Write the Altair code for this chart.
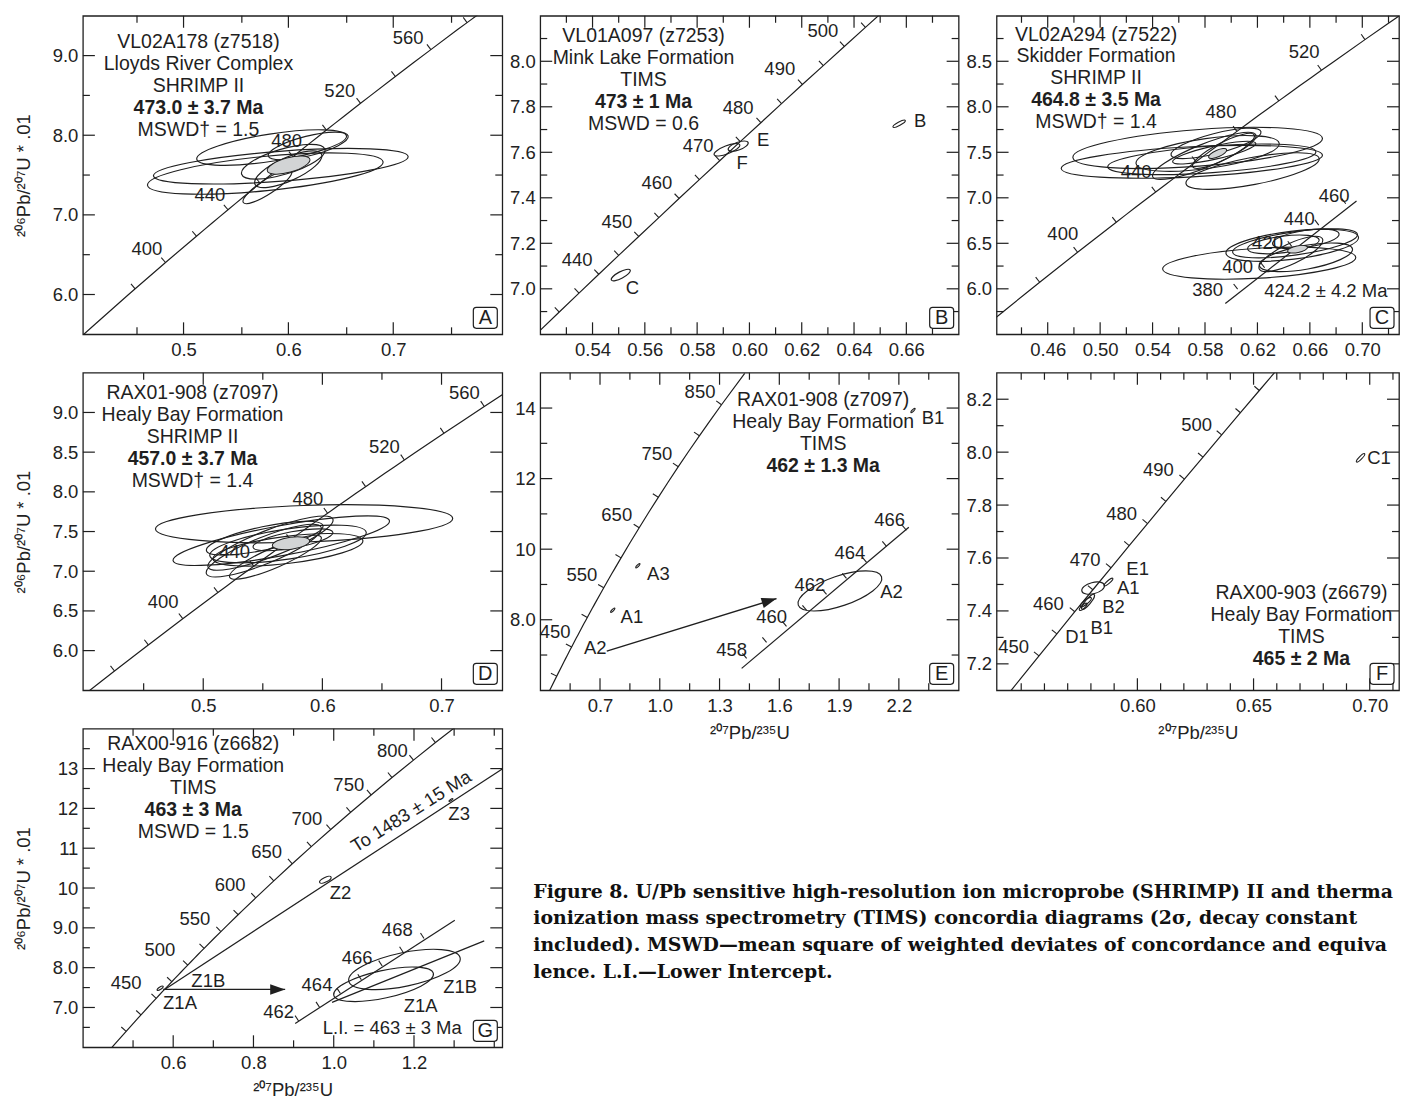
import math
import pandas as pd
import altair as alt

FONT = "Liberation Sans"
INK = "#1f1f1f"
GRAY = "#d2d4d5"
LABEL_SIZE = 18.5
HEADER_SIZE = 19.5
LINE_H = 22
TICK_LEN = 6.5
TICK_PATH = "M0,0L0,-1"
HEAD_PATH = "M0,0L-2,-0.7L-2,0.7Z"

Y_TITLE = "²⁰⁶Pb/²⁰⁷U * .01"
X_TITLE = "²⁰⁷Pb/²³⁵U"

# ---------------- concordia table (age in Ma, 207Pb/235U, 206Pb/238U x 100) ----------------
CONC_AGE = [340, 350, 360, 375, 380, 400, 420, 425, 430, 435, 440, 445, 450, 455, 460, 465, 470,
            475, 480, 485, 490, 495, 500, 505, 510, 515, 520, 525, 540, 550, 560, 575, 580, 600,
            625, 650, 675, 700, 725, 750, 775, 800, 825, 850, 900]
CONC_X = [0.39773, 0.41156, 0.42553, 0.44675, 0.45389, 0.48281, 0.51231, 0.51977, 0.52728,
          0.53482, 0.54239, 0.55000, 0.55766, 0.56535, 0.57307, 0.58084, 0.58864, 0.59648,
          0.60437, 0.61228, 0.62024, 0.62824, 0.63628, 0.64436, 0.65247, 0.66063, 0.66883,
          0.67707, 0.70202, 0.71887, 0.73588, 0.76172, 0.77041, 0.80563, 0.85064, 0.89677,
          0.94405, 0.99251, 1.04218, 1.09308, 1.14526, 1.19873, 1.25354, 1.30971, 1.42629]
CONC_Y = [5.416, 5.580, 5.743, 5.990, 6.072, 6.402, 6.732, 6.815, 6.898, 6.981, 7.064, 7.147,
          7.230, 7.313, 7.397, 7.480, 7.563, 7.647, 7.730, 7.814, 7.898, 7.981, 8.065, 8.149,
          8.233, 8.317, 8.401, 8.485, 8.738, 8.906, 9.075, 9.330, 9.414, 9.754, 10.181, 10.609,
          11.039, 11.470, 11.903, 12.338, 12.775, 13.213, 13.653, 14.094, 14.983]

# ---------------- Panel A ----------------
A_XDOM = [0.404, 0.804]
A_YDOM = [5.5, 9.5]
A_XMAJ = [0.5, 0.6, 0.7]
A_XMIN = [0.4556, 0.5556, 0.6556, 0.7556]
A_YMAJ = [6.0, 7.0, 8.0, 9.0]
A_YMIN = [6.5, 7.5, 8.5]
A_SPAN = [340, 600]
A_TICKS = [380, 400, 420, 440, 460, 480, 500, 520, 540, 560, 580]
A_AGE_LABELS = [("400", 0.465, 6.57), ("440", 0.5252, 7.247), ("480", 0.5983, 7.929),
                ("520", 0.649, 8.556), ("560", 0.7142, 9.224)]
A_HEADER = ["VL02A178 (z7518)", "Lloyds River Complex", "SHRIMP II", "473.0 ± 3.7 Ma", "MSWD† = 1.5"]
A_HEADER_POS = [0.5142, 9.170]
A_ELLIPSES = [[0.4656, 7.3725, 0.6903, 7.665, 0.145],
              [0.4713, 7.4896, 0.7142, 7.732, 0.117],
              [0.5126, 7.699, 0.6554, 7.991, 0.18],
              [0.5554, 7.5105, 0.6348, 7.824, 0.29],
              [0.5808, 7.740, 0.6570, 7.991, 0.24],
              [0.5570, 7.155, 0.6030, 7.552, 0.25],
              [0.5681, 7.385, 0.6316, 7.761, 0.32]]
A_MEAN = [[0.5799, 7.552, 0.6205, 7.699, 0.33]]

# ---------------- Panel B ----------------
B_XDOM = [0.52, 0.68]
B_YDOM = [6.8, 8.2]
B_XMAJ = [0.54, 0.56, 0.58, 0.60, 0.62, 0.64, 0.66]
B_XMIN = [0.53, 0.55, 0.57, 0.59, 0.61, 0.63, 0.65, 0.67]
B_YMAJ = [7.0, 7.2, 7.4, 7.6, 7.8, 8.0]
B_YMIN = [6.9, 7.1, 7.3, 7.5, 7.7, 7.9, 8.1]
B_SPAN = [420, 515]
B_TICKS = [430, 435, 440, 445, 450, 455, 460, 465, 470, 475, 480, 485, 490, 495, 500, 505]
B_AGE_LABELS = [("440", 0.5341, 7.127), ("450", 0.5493, 7.295), ("460", 0.5646, 7.464),
                ("470", 0.5804, 7.629), ("480", 0.5957, 7.795), ("490", 0.6116, 7.964),
                ("500", 0.6281, 8.132)]
B_HEADER = ["VL01A097 (z7253)", "Mink Lake Formation", "TIMS", "473 ± 1 Ma", "MSWD = 0.6"]
B_HEADER_POS = [0.5595, 8.111]
B_ELLIPSES = [[0.5919, 7.611, 0.5995, 7.643, 0.37],
              [0.5865, 7.589, 0.5963, 7.633, 0.29],
              [0.6549, 7.711, 0.6596, 7.740, 0.24],
              [0.5472, 7.0385, 0.5544, 7.0825, 0.31]]
B_LABELS = [("E", 0.6052, 7.655), ("F", 0.5972, 7.552), ("B", 0.6653, 7.736), ("C", 0.5553, 7.002)]

# ---------------- Panel C ----------------
C_XDOM = [0.421, 0.7280]
C_YDOM = [5.5, 9.0]
C_XMAJ = [0.46, 0.50, 0.54, 0.58, 0.62, 0.66, 0.70]
C_XMIN = [0.44, 0.48, 0.52, 0.56, 0.60, 0.64, 0.68, 0.72]
C_YMAJ = [6.0, 6.5, 7.0, 7.5, 8.0, 8.5]
C_YMIN = [5.75, 6.25, 6.75, 7.25, 7.75, 8.25, 8.75]
C_SPAN = [340, 580]
C_TICKS = [380, 400, 420, 440, 460, 480, 500, 520, 540]
C_AGE_LABELS = [("400", 0.4715, 6.604), ("440", 0.5274, 7.285), ("480", 0.5922, 7.947),
                ("520", 0.6557, 8.599)]
C_HEADER = ["VL02A294 (z7522)", "Skidder Formation", "SHRIMP II", "464.8 ± 3.5 Ma", "MSWD† = 1.4"]
C_HEADER_POS = [0.4969, 8.794]
C_SEC_LINE = [(0.5955, 5.839), (0.6956, 6.965)]
C_SEC_TICKS = [(0.6049, 5.997), (0.6255, 6.2315), (0.6462, 6.466), (0.6668, 6.7005), (0.6874, 6.935)]
C_LABELS = [("380", 0.582, 5.986), ("400", 0.6049, 6.236), ("420", 0.6277, 6.501),
            ("440", 0.6519, 6.770), ("460", 0.6785, 7.016), ("424.2 ± 4.2 Ma", 0.6722, 5.971)]
C_ELLIPSES = [[0.4792, 7.443, 0.6696, 7.653, 0.146],
              [0.4703, 7.322, 0.6696, 7.469, 0.115],
              [0.5058, 7.340, 0.6646, 7.506, 0.128],
              [0.5655, 7.156, 0.6671, 7.432, 0.20],
              [0.5541, 7.469, 0.6227, 7.727, 0.215],
              [0.5401, 7.230, 0.6188, 7.690, 0.21],
              [0.5706, 7.340, 0.6176, 7.690, 0.24],
              [0.5274, 7.377, 0.6366, 7.598, 0.207],
              [0.5553, 7.395, 0.6188, 7.598, 0.157],
              [0.5477, 6.2175, 0.6950, 6.346, 0.155],
              [0.5960, 6.390, 0.6971, 6.567, 0.21],
              [0.6011, 6.402, 0.6963, 6.597, 0.185],
              [0.6125, 6.438, 0.6671, 6.538, 0.23],
              [0.6214, 6.2175, 0.6696, 6.549, 0.29],
              [0.6315, 6.4936, 0.6823, 6.604, 0.25],
              [0.6214, 6.254, 0.6925, 6.438, 0.25]]
C_MEAN = [[0.5828, 7.443, 0.5965, 7.531, 0.34],
          [0.6430, 6.4126, 0.6582, 6.457, 0.33]]

# ---------------- Panel D ----------------
D_XDOM = [0.399, 0.751]
D_YDOM = [5.5, 9.5]
D_XMAJ = [0.5, 0.6, 0.7]
D_XMIN = [0.45, 0.55, 0.65]
D_YMAJ = [6.0, 6.5, 7.0, 7.5, 8.0, 8.5, 9.0]
D_YMIN = []
D_SPAN = [340, 600]
D_TICKS = [360, 380, 400, 420, 440, 460, 480, 500, 520, 540, 560]
D_AGE_LABELS = [("400", 0.4663, 6.612), ("440", 0.5264, 7.247), ("480", 0.5879, 7.916),
                ("520", 0.6521, 8.568), ("560", 0.7192, 9.245)]
D_HEADER = ["RAX01-908 (z7097)", "Healy Bay Formation", "SHRIMP II", "457.0 ± 3.7 Ma", "MSWD†  = 1.4"]
D_HEADER_POS = [0.491, 9.245]
D_ELLIPSES = [[0.4599, 7.531, 0.7094, 7.665, 0.123],
              [0.4747, 7.134, 0.6563, 7.636, 0.136],
              [0.5041, 7.051, 0.6088, 7.657, 0.20],
              [0.5027, 6.967, 0.5990, 7.552, 0.215],
              [0.5055, 7.197, 0.6368, 7.490, 0.19],
              [0.5222, 6.925, 0.5990, 7.427, 0.20],
              [0.5418, 7.302, 0.6088, 7.490, 0.20],
              [0.5082, 7.155, 0.6340, 7.385, 0.18],
              [0.5027, 7.260, 0.6005, 7.573, 0.196]]
D_MEAN = [[0.5580, 7.322, 0.5893, 7.385, 0.32]]

# ---------------- Panel E ----------------
E_XDOM = [0.4, 2.5]
E_YDOM = [6.0, 15.0]
E_XMAJ = [0.7, 1.0, 1.3, 1.6, 1.9, 2.2]
E_XMIN = [0.55, 0.85, 1.15, 1.45, 1.75, 2.05, 2.35]
E_YMAJ = [8, 10, 12, 14]
E_YMIN = [7, 9, 11, 13]
E_SPAN = [350, 900]
E_TICKS = [400, 450, 500, 550, 600, 650, 700, 750, 800, 850]
E_AGE_LABELS = [("450", 0.475, 7.66), ("550", 0.609, 9.26), ("650", 0.784, 10.96),
                ("750", 0.985, 12.71), ("850", 1.202, 14.45)]
E_HEADER = ["RAX01-908 (z7097)", "Healy Bay Formation", "TIMS", "462 ± 1.3 Ma"]
E_HEADER_POS = [1.82, 14.216]
E_SEC_LINE = [(1.411, 6.622), (2.25, 10.62)]
E_SEC_TICKS = [(1.436, 6.905), (1.536, 7.359), (1.636, 7.813), (1.737, 8.267), (1.837, 8.721),
               (1.937, 9.174), (2.038, 9.628), (2.138, 10.082), (2.238, 10.536)]
E_LABELS = [("458", 1.361, 7.14), ("460", 1.561, 8.085), ("462", 1.753, 8.98),
            ("464", 1.954, 9.905), ("466", 2.154, 10.82), ("A2", 0.676, 7.19),
            ("A1", 0.86, 8.085), ("A3", 0.993, 9.31), ("B1", 2.371, 13.72), ("A2", 2.163, 8.79)]
E_ELLIPSES = [[1.695, 8.414, 2.113, 9.217, 0.34],
              [0.880, 9.473, 0.900, 9.587, 0.3],
              [0.754, 8.213, 0.774, 8.327, 0.3],
              [2.261, 13.873, 2.281, 13.987, 0.3]]
E_ARROW = [(0.734, 7.11), (1.586, 8.60)]

# ---------------- Panel F ----------------
F_XDOM = [0.5394, 0.7126]
F_YDOM = [7.1, 8.3]
F_XMAJ = [0.60, 0.65, 0.70]
F_XMIN = [0.55, 0.56, 0.57, 0.58, 0.59, 0.61, 0.62, 0.63, 0.64, 0.66, 0.67, 0.68, 0.69, 0.71]
F_YMAJ = [7.2, 7.4, 7.6, 7.8, 8.0, 8.2]
F_YMIN = [7.3, 7.5, 7.7, 7.9, 8.1]
F_SPAN = [440, 515]
F_TICKS = [450, 455, 460, 465, 470, 475, 480, 485, 490, 495, 500, 505, 510]
F_AGE_LABELS = [("450", 0.5467, 7.265), ("460", 0.5617, 7.428), ("470", 0.5775, 7.594),
                ("480", 0.5932, 7.765), ("490", 0.609, 7.931), ("500", 0.6255, 8.101)]
F_HEADER = ["RAX00-903 (z6679)", "Healy Bay Formation", "TIMS", "465 ± 2 Ma"]
F_HEADER_POS = [0.6706, 7.466]
F_LABELS = [("E1", 0.6001, 7.558), ("A1", 0.5961, 7.488), ("B2", 0.5897, 7.414),
            ("B1", 0.5847, 7.336), ("D1", 0.5740, 7.300), ("C1", 0.7040, 7.979)]
F_ELLIPSES = [[0.5761, 7.475, 0.5858, 7.4975, 0.48],
              [0.5857, 7.495, 0.5894, 7.523, 0.25],
              [0.5761, 7.407, 0.5814, 7.462, 0.28],
              [0.5755, 7.416, 0.5801, 7.450, 0.30],
              [0.5751, 7.403, 0.5782, 7.428, 0.35],
              [0.6943, 7.963, 0.6978, 7.994, 0.25]]

# ---------------- Panel G ----------------
G_XDOM = [0.375, 1.42]
G_YDOM = [6.0, 14.0]
G_XMAJ = [0.6, 0.8, 1.0, 1.2]
G_XMIN = [0.5, 0.7, 0.9, 1.1, 1.3, 1.4]
G_YMAJ = [7, 8, 9, 10, 11, 12, 13]
G_YMIN = [6.5, 7.5, 8.5, 9.5, 10.5, 11.5, 12.5, 13.5]
G_SPAN = [375, 850]
G_TICKS = [400, 425, 450, 475, 500, 525, 550, 575, 600, 625, 650, 675, 700, 725, 750, 775, 800, 825]
G_AGE_LABELS = [("450", 0.483, 7.604), ("500", 0.567, 8.44), ("550", 0.654, 9.234),
                ("600", 0.742, 10.07), ("650", 0.833, 10.906), ("700", 0.933, 11.742),
                ("750", 1.0375, 12.595), ("800", 1.146, 13.431)]
G_HEADER = ["RAX00-916 (z6682)", "Healy Bay Formation", "TIMS", "463 ± 3 Ma", "MSWD  = 1.5"]
G_HEADER_POS = [0.65, 13.624]
G_DISC_LINE = [(0.5777, 7.447), (1.4208, 12.997)]
G_SEC_LINE = [(0.904, 6.60), (1.3017, 9.192)]
G_SEC_TICKS = [(0.9125, 6.659), (0.9646, 7.005), (1.0167, 7.350), (1.0688, 7.696),
               (1.1208, 8.041), (1.1729, 8.387), (1.225, 8.732)]
G_INSET_LINE = [(0.9958, 7.127), (1.375, 8.674)]
G_LABELS = [("Z1B", 0.6875, 7.662), ("Z1A", 0.617, 7.102), ("Z2", 1.0167, 9.886),
            ("Z3", 1.3125, 11.868), ("462", 0.8625, 6.893), ("464", 0.9583, 7.562),
            ("466", 1.0583, 8.247), ("468", 1.1583, 8.94), ("Z1B", 1.315, 7.52),
            ("Z1A", 1.2167, 7.03), ("L.I. = 463 ± 3 Ma", 1.1458, 6.49)]
G_ROTATED = ("To 1483 ± 15 Ma", 1.193, 11.926)
G_ELLIPSES = [[1.0375, 7.662, 1.315, 8.2475, 0.295],
              [1.0, 7.311, 1.2483, 7.854, 0.27],
              [0.965, 10.137, 0.9933, 10.279, 0.37],
              [0.560, 7.437, 0.575, 7.529, 0.35],
              [1.287, 12.18, 1.297, 12.24, 0.3]]
G_ARROW = [(0.575, 7.453), (0.879, 7.453)]

# caption as visible in the figure (its right edge is cut off)
CAPTION = ["Figure 8. U/Pb sensitive high-resolution ion microprobe (SHRIMP) II and therma",
           "ionization mass spectrometry (TIMS) concordia diagrams (2σ, decay constant",
           "included). MSWD—mean square of weighted deviates of concordance and equiva",
           "lence. L.I.—Lower Intercept."]

COL_W = [420, 419, 403]
ROW_H = [319, 318, 319]
YEXPR = "datum.value < 10 ? format(datum.value, '.1f') : format(datum.value, 'd')"


def ellipse_path(r):
    k = 0.5523
    return (f"M-1,0C-1,{-k*r:.4f} {-k:.4f},{-r:.4f} 0,{-r:.4f}"
            f"C{k:.4f},{-r:.4f} 1,{-k*r:.4f} 1,0"
            f"C1,{k*r:.4f} {k:.4f},{r:.4f} 0,{r:.4f}"
            f"C{-k:.4f},{r:.4f} -1,{k*r:.4f} -1,0Z")


def ellipse_df(items, kx, ky):
    rows = []
    for x1, y1, x2, y2, r in items:
        dxp = (x2 - x1) * kx
        dyp = -(y2 - y1) * ky
        a = 0.5 * math.hypot(dxp, dyp)
        rows.append({"x": 0.5 * (x1 + x2), "y": 0.5 * (y1 + y2),
                     "ang": math.degrees(math.atan2(dyp, dxp)) % 360,
                     "size": (2 * a) ** 2, "shape": ellipse_path(r)})
    return pd.DataFrame(rows)


def build(p):
    W, H = p["w"], p["h"]
    xd, yd = p["xdom"], p["ydom"]
    kx = W / (xd[1] - xd[0])
    ky = H / (yd[1] - yd[0])
    xs = alt.Scale(domain=xd, nice=False, zero=False)
    ys = alt.Scale(domain=yd, nice=False, zero=False)

    xax = dict(values=p["xmaj"], ticks=False, domain=False, grid=False, labelPadding=6,
               labelFlush=False, labelOverlap=False, format=p["xfmt"])
    if p.get("xtitle"):
        xax.update(title=X_TITLE, titlePadding=9)
    else:
        xax.update(title=None)
    yax = dict(values=p["ymaj"], ticks=False, domain=False, grid=False, labelPadding=5,
               labelFlush=False, labelOverlap=False)
    if p.get("yexpr"):
        yax["labelExpr"] = YEXPR
    else:
        yax["format"] = ".1f"
    if p.get("ytitle"):
        yax.update(title=Y_TITLE, titlePadding=19)
    else:
        yax.update(title=None)
    XAX = alt.Axis(**xax)
    YAX = alt.Axis(**yax)

    def XN(f):
        return alt.X(f, type="quantitative", scale=xs, axis=XAX)

    def YN(f):
        return alt.Y(f, type="quantitative", scale=ys, axis=YAX)

    layers = []
    conc = pd.DataFrame({"age": CONC_AGE, "x": CONC_X, "y": CONC_Y})
    lo, hi = p["span"]
    line = conc[(conc.age >= lo) & (conc.age <= hi)]
    layers.append(alt.Chart(line).mark_line(clip=True, color=INK, strokeWidth=1.2).encode(
        x=XN("x"), y=YN("y"), order="age:Q"))

    # concordia age ticks
    trows = []
    for a in p["ticks"]:
        i = CONC_AGE.index(a)
        i0, i1 = max(i - 1, 0), min(i + 1, len(CONC_AGE) - 1)
        dxp = (CONC_X[i1] - CONC_X[i0]) * kx
        dyp = -(CONC_Y[i1] - CONC_Y[i0]) * ky
        trows.append({"x": CONC_X[i], "y": CONC_Y[i],
                      "ang": math.degrees(math.atan2(dyp, dxp)) % 360})

    # secondary lines
    lrows = []
    for lid, seg in enumerate(p.get("lines", [])):
        pts, ticks = seg
        for j, (x, y) in enumerate(pts):
            lrows.append({"id": lid, "o": j, "x": x, "y": y})
        if ticks:
            dxp = (pts[1][0] - pts[0][0]) * kx
            dyp = -(pts[1][1] - pts[0][1]) * ky
            ang = math.degrees(math.atan2(dyp, dxp)) % 360
            for x, y in ticks:
                trows.append({"x": x, "y": y, "ang": ang})
    if lrows:
        layers.append(alt.Chart(pd.DataFrame(lrows)).mark_line(clip=True, color=INK, strokeWidth=1.2).encode(
            x=XN("x"), y=YN("y"), detail="id:N", order="o:Q"))
    layers.append(alt.Chart(pd.DataFrame(trows)).mark_point(
        shape=TICK_PATH, size=(2 * TICK_LEN) ** 2, filled=False, color=INK, strokeWidth=1.1,
        opacity=1, clip=True).encode(x=XN("x"), y=YN("y"), angle=alt.Angle("ang:Q", scale=None)))

    # ellipses
    if p.get("ell"):
        layers.append(alt.Chart(ellipse_df(p["ell"], kx, ky)).mark_point(
            filled=False, color=INK, strokeWidth=1.15, opacity=1).encode(
            x=XN("x"), y=YN("y"), angle=alt.Angle("ang:Q", scale=None),
            size=alt.Size("size:Q", scale=None), shape=alt.Shape("shape:N", scale=None)))
    if p.get("mean"):
        layers.append(alt.Chart(ellipse_df(p["mean"], kx, ky)).mark_point(
            filled=True, color=GRAY, stroke=INK, strokeWidth=1.0, opacity=1).encode(
            x=XN("x"), y=YN("y"), angle=alt.Angle("ang:Q", scale=None),
            size=alt.Size("size:Q", scale=None), shape=alt.Shape("shape:N", scale=None)))

    # arrow
    if p.get("arrow"):
        (x0, y0), (x1, y1) = p["arrow"]
        dxp = (x1 - x0) * kx
        dyp = -(y1 - y0) * ky
        ang = math.degrees(math.atan2(dyp, dxp)) % 360
        shaft = pd.DataFrame({"o": [0, 1], "x": [x0, x1], "y": [y0, y1]})
        layers.append(alt.Chart(shaft).mark_line(color=INK, strokeWidth=1.3).encode(
            x=XN("x"), y=YN("y"), order="o:Q"))
        head = pd.DataFrame({"x": [x1], "y": [y1], "ang": [ang]})
        layers.append(alt.Chart(head).mark_point(
            shape=HEAD_PATH, size=225, filled=True, color=INK, opacity=1).encode(
            x=XN("x"), y=YN("y"), angle=alt.Angle("ang:Q", scale=None)))

    # text labels
    labs = list(p["ages"]) + list(p.get("labels", []))
    ldf = pd.DataFrame(labs, columns=["t", "x", "y"])
    layers.append(alt.Chart(ldf).mark_text(font=FONT, fontSize=LABEL_SIZE, color=INK).encode(
        x=XN("x"), y=YN("y"), text="t:N"))
    if p.get("rot"):
        t, x, y = p["rot"]
        layers.append(alt.Chart(pd.DataFrame({"t": [t], "x": [x], "y": [y]})).mark_text(
            font=FONT, fontSize=LABEL_SIZE, color=INK, angle=328).encode(
            x=XN("x"), y=YN("y"), text="t:N"))

    # header block
    hx, hy = p["hpos"]
    hrows = [{"t": t, "x": hx, "y": hy - i * LINE_H / ky, "b": (" Ma" in t)}
             for i, t in enumerate(p["header"])]
    hdf = pd.DataFrame(hrows)
    layers.append(alt.Chart(hdf[~hdf.b]).mark_text(font=FONT, fontSize=HEADER_SIZE, color=INK).encode(
        x=XN("x"), y=YN("y"), text="t:N"))
    layers.append(alt.Chart(hdf[hdf.b]).mark_text(font=FONT, fontSize=HEADER_SIZE, fontWeight="bold",
                                                  color=INK).encode(x=XN("x"), y=YN("y"), text="t:N"))

    # frame ticks (inward)
    for vals, L in ((p["xmaj"], 12), (p["xmin"], 7)):
        if not vals:
            continue
        base = alt.Chart(pd.DataFrame({"v": vals})).mark_rule(color=INK, strokeWidth=1.2)
        layers.append(base.encode(x=XN("v"), y=alt.value(H), y2=alt.value(H - L)))
        layers.append(base.encode(x=XN("v"), y=alt.value(0), y2=alt.value(L)))
    for vals, L in ((p["ymaj"], 12), (p["ymin"], 7)):
        if not vals:
            continue
        base = alt.Chart(pd.DataFrame({"v": vals})).mark_rule(color=INK, strokeWidth=1.2)
        layers.append(base.encode(y=YN("v"), x=alt.value(0), x2=alt.value(L)))
        layers.append(base.encode(y=YN("v"), x=alt.value(W), x2=alt.value(W - L)))

    # panel letter box
    one = pd.DataFrame({"k": [0]})
    layers.append(alt.Chart(one).mark_rect(fill="white", stroke=INK, strokeWidth=1.2, cornerRadius=3).encode(
        x=alt.value(W - 29), x2=alt.value(W - 5), y=alt.value(H - 27), y2=alt.value(H - 6)))
    layers.append(alt.Chart(one).mark_text(font=FONT, fontSize=20, color=INK, text=p["letter"]).encode(
        x=alt.value(W - 17), y=alt.value(H - 16)))

    if p.get("caption"):
        layers.append(alt.Chart(one).mark_text(
            text=CAPTION, font="DejaVu Serif", fontWeight="bold", fontSize=18.9, color="#111",
            align="left", baseline="alphabetic", lineHeight=27, limit=866, ellipsis="\u200b").encode(
            x=alt.value(451), y=alt.value(169)))

    return alt.layer(*layers).properties(width=W, height=H)


PANELS = [
    dict(letter="A", w=COL_W[0], h=ROW_H[0], xdom=A_XDOM, ydom=A_YDOM, xmaj=A_XMAJ, xmin=A_XMIN,
         ymaj=A_YMAJ, ymin=A_YMIN, xfmt=".1f", span=A_SPAN, ticks=A_TICKS, ages=A_AGE_LABELS,
         header=A_HEADER, hpos=A_HEADER_POS, ell=A_ELLIPSES, mean=A_MEAN, ytitle=True),
    dict(letter="B", w=COL_W[1], h=ROW_H[0], xdom=B_XDOM, ydom=B_YDOM, xmaj=B_XMAJ, xmin=B_XMIN,
         ymaj=B_YMAJ, ymin=B_YMIN, xfmt=".2f", span=B_SPAN, ticks=B_TICKS, ages=B_AGE_LABELS,
         header=B_HEADER, hpos=B_HEADER_POS, ell=B_ELLIPSES, labels=B_LABELS),
    dict(letter="C", w=COL_W[2], h=ROW_H[0], xdom=C_XDOM, ydom=C_YDOM, xmaj=C_XMAJ, xmin=C_XMIN,
         ymaj=C_YMAJ, ymin=C_YMIN, xfmt=".2f", span=C_SPAN, ticks=C_TICKS, ages=C_AGE_LABELS,
         header=C_HEADER, hpos=C_HEADER_POS, ell=C_ELLIPSES, mean=C_MEAN, labels=C_LABELS,
         lines=[(C_SEC_LINE, C_SEC_TICKS)]),
    dict(letter="D", w=COL_W[0], h=ROW_H[1], xdom=D_XDOM, ydom=D_YDOM, xmaj=D_XMAJ, xmin=D_XMIN,
         ymaj=D_YMAJ, ymin=D_YMIN, xfmt=".1f", span=D_SPAN, ticks=D_TICKS, ages=D_AGE_LABELS,
         header=D_HEADER, hpos=D_HEADER_POS, ell=D_ELLIPSES, mean=D_MEAN, ytitle=True),
    dict(letter="E", w=COL_W[1], h=ROW_H[1], xdom=E_XDOM, ydom=E_YDOM, xmaj=E_XMAJ, xmin=E_XMIN,
         ymaj=E_YMAJ, ymin=E_YMIN, xfmt=".1f", yexpr=True, span=E_SPAN, ticks=E_TICKS,
         ages=E_AGE_LABELS, header=E_HEADER, hpos=E_HEADER_POS, ell=E_ELLIPSES, labels=E_LABELS,
         lines=[(E_SEC_LINE, E_SEC_TICKS)], arrow=E_ARROW, xtitle=True),
    dict(letter="F", w=COL_W[2], h=ROW_H[1], xdom=F_XDOM, ydom=F_YDOM, xmaj=F_XMAJ, xmin=F_XMIN,
         ymaj=F_YMAJ, ymin=F_YMIN, xfmt=".2f", span=F_SPAN, ticks=F_TICKS, ages=F_AGE_LABELS,
         header=F_HEADER, hpos=F_HEADER_POS, ell=F_ELLIPSES, labels=F_LABELS, xtitle=True),
    dict(letter="G", w=COL_W[0], h=ROW_H[2], xdom=G_XDOM, ydom=G_YDOM, xmaj=G_XMAJ, xmin=G_XMIN,
         ymaj=G_YMAJ, ymin=G_YMIN, xfmt=".1f", yexpr=True, span=G_SPAN, ticks=G_TICKS,
         ages=G_AGE_LABELS, header=G_HEADER, hpos=G_HEADER_POS, ell=G_ELLIPSES, labels=G_LABELS,
         lines=[(G_DISC_LINE, None), (G_SEC_LINE, G_SEC_TICKS), (G_INSET_LINE, None)],
         arrow=G_ARROW, rot=G_ROTATED, xtitle=True, ytitle=True, caption=True),
]

charts = [build(p) for p in PANELS]

chart = alt.concat(*charts, columns=3, spacing={"row": 38.5, "column": 38}, bounds="flush").properties(
    background="white", padding={"left": 5, "top": 5, "right": 0, "bottom": 5}
).configure_view(stroke=INK, strokeWidth=1.3).configure_axis(
    labelFont=FONT, labelFontSize=LABEL_SIZE, labelColor="#222",
    titleFont=FONT, titleFontSize=18.5, titleFontWeight="normal", titleColor="#222")

chart.save("out.html", embed_options={"renderer": "svg", "actions": False})
